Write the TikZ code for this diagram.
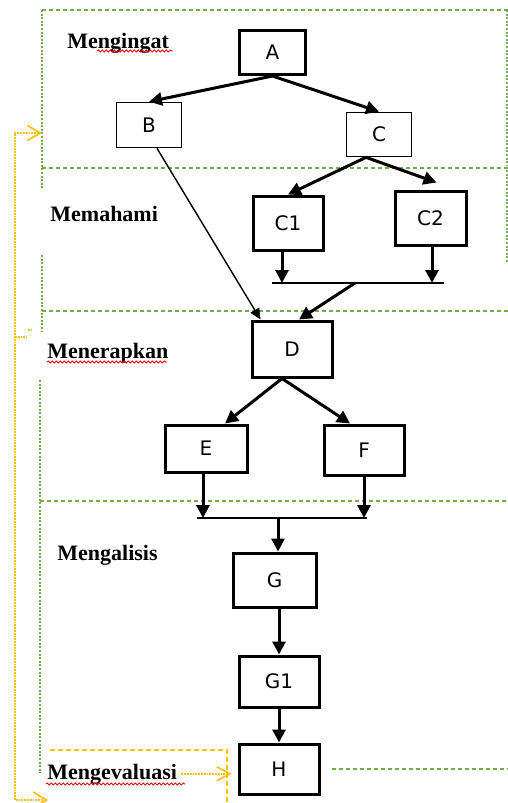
\documentclass[tikz,border=0pt]{standalone}
\usepackage{fontspec}
\setmainfont{Liberation Serif}
\newfontfamily\boxfont{DejaVu Sans}
\usetikzlibrary{arrows.meta,calc,decorations.pathmorphing}
\definecolor{lgreen}{HTML}{70AD47}
\definecolor{lorange}{HTML}{FFC000}
\tikzset{
  tbox/.style={draw, line width=1.5pt, font=\boxfont\fontsize{10}{12}\selectfont, inner sep=0pt},
  nbox/.style={draw, line width=0.85pt, font=\boxfont\fontsize{10}{12}\selectfont, inner sep=0pt},
  arr/.style={line width=1.5pt, -{Triangle[length=6.5pt,width=6.5pt]}},
  thinarr/.style={line width=0.7pt, -{Triangle[length=5.5pt,width=5pt]}},
  junc/.style={line width=0.8pt},
  gdash/.style={lgreen, line width=0.75pt, dash pattern=on 2pt off 1.5pt},
  gdot/.style={lgreen, line width=1pt, dash pattern=on 1pt off 0.8pt},
  odot/.style={lorange, line width=1.1pt, dash pattern=on 0.9pt off 0.5pt},
  odash/.style={lorange, line width=0.8pt, dash pattern=on 2.5pt off 1.5pt},
  obarb/.style={-{Straight Barb[length=6.5pt,width=7pt,line width=0.8pt]}},
  obarbboth/.style={{Straight Barb[length=6.5pt,width=8pt,line width=0.8pt]}-{Straight Barb[length=6.5pt,width=7.5pt,line width=0.8pt]}},
  lvl/.style={font=\bfseries\fontsize{11}{13}\selectfont, inner sep=0pt, anchor=base west},
  squig/.style={red, line width=0.45pt, decorate, decoration={snake, amplitude=0.5pt, segment length=2pt}}
}
\begin{document}
\begin{tikzpicture}[x=0.5pt,y=-0.5pt]
\useasboundingbox[fill=white] (0,0) rectangle (508,803);

% green level frames
\draw[gdash] (42,10) -- (508,10);
\draw[gdot] (507,10) -- (507,165);
\draw[gdash] (42,168) -- (508,168);
\draw[gdot] (507,170) -- (507,263);
\draw[gdash] (42,311) -- (508,311);
\draw[gdash] (40,501) -- (508,501);
\draw[gdash] (332,769) -- (508,769);
\draw[gdot] (42,10) -- (42,188);
\draw[gdot] (42,255) -- (42,332);
\draw[gdot] (40,380) -- (40,773);

% level labels
\node[lvl] (l1) at (67,48) {Mengingat};
\node[lvl] (l2) at (50,221) {Memahami};
\node[lvl] (l3) at (47,358) {Menerapkan};
\node[lvl] (l4) at (57,560) {Mengalisis};
\node[lvl] (l5) at (47,779) {Mengevaluasi};

% spell-check squiggles
\draw[squig] (97,51) -- (173,51);
\draw[squig] (47,362) -- (167,362);
\draw[squig] (46,784) -- (185,784);

% boxes
\node[tbox, minimum width=33pt, minimum height=22pt] (A) at (272.5,52.5) {A};
\node[nbox, minimum width=32.5pt, minimum height=22.5pt] (B) at (149,125) {B};
\node[nbox, minimum width=32.5pt, minimum height=22pt] (C) at (379,134.5) {C};
\node[tbox, minimum width=35pt, minimum height=27pt] (C1) at (288,223) {C1};
\node[tbox, minimum width=35.5pt, minimum height=27pt] (C2) at (430.5,218) {C2};
\node[tbox, minimum width=40pt, minimum height=28pt] (D) at (292,349) {D};
\node[tbox, minimum width=41pt, minimum height=23.5pt] (E) at (206,448.5) {E};
\node[tbox, minimum width=40pt, minimum height=25pt] (F) at (364,450) {F};
\node[tbox, minimum width=41.5pt, minimum height=27pt] (G) at (274.5,580) {G};
\node[tbox, minimum width=40pt, minimum height=25.5pt] (G1) at (279,681.5) {G1};
\node[tbox, minimum width=40pt, minimum height=25pt] (H) at (279,769) {H};

% connectors
\draw[arr] (A.south) -- (B.north);
\draw[arr] (A.south) -- (C.north);
\draw[arr] ([xshift=-6.5pt]C.south) -- (C1.north);
\draw[arr] ([xshift=-6.5pt]C.south) -- ([xshift=3pt,yshift=3.5pt]C2.north);
\draw[thinarr] ([xshift=4pt]B.south) -- ([xshift=5pt]D.north west);

\coordinate (j1) at (272,283);
\coordinate (j2) at (444,283);
\coordinate (ja) at (282,283);
\coordinate (jb) at (432,283);
\coordinate (jc) at (355,283);
\draw[junc] (j1) -- (j2);
\draw[arr] (C1.south -| ja) -- (ja);
\draw[arr] (C2.south -| jb) -- (jb);
\draw[arr] (jc) -- ([xshift=3.5pt]D.north);

\draw[arr] ([xshift=-5pt]D.south) -- ([xshift=9.5pt]E.north);
\draw[arr] ([xshift=-5pt]D.south) -- ([xshift=-7pt]F.north);

\coordinate (k1) at (197,518);
\coordinate (k2) at (367,518);
\coordinate (ka) at (203,518);
\coordinate (kb) at (364,518);
\coordinate (kc) at (278,518);
\draw[junc] (k1) -- (k2);
\draw[arr] (E.south -| ka) -- (ka);
\draw[arr] (F.south -| kb) -- (kb);
\draw[arr] (kc) -- (kc |- G.north);
\draw[arr] (G.south -| G1.north) -- (G1.north);
\draw[arr] (G1.south) -- (H.north);

% orange feedback loop
\coordinate (ob) at (48,800);
\coordinate (ot) at (42,133);
\draw[odot, obarbboth] (ob) -- (15,800) -- (15,133) -- (ot);
\draw[odot] (15,337) -- (27,337);
\draw[odot] (28,330) -- (31,330);
\draw[odash] (50,750) -- (227,750) -- (227,803);
\draw[odot, obarb, shorten <=2pt, shorten >=3pt] (l5.east) -- (l5.east -| H.west);
\end{tikzpicture}
\end{document}
